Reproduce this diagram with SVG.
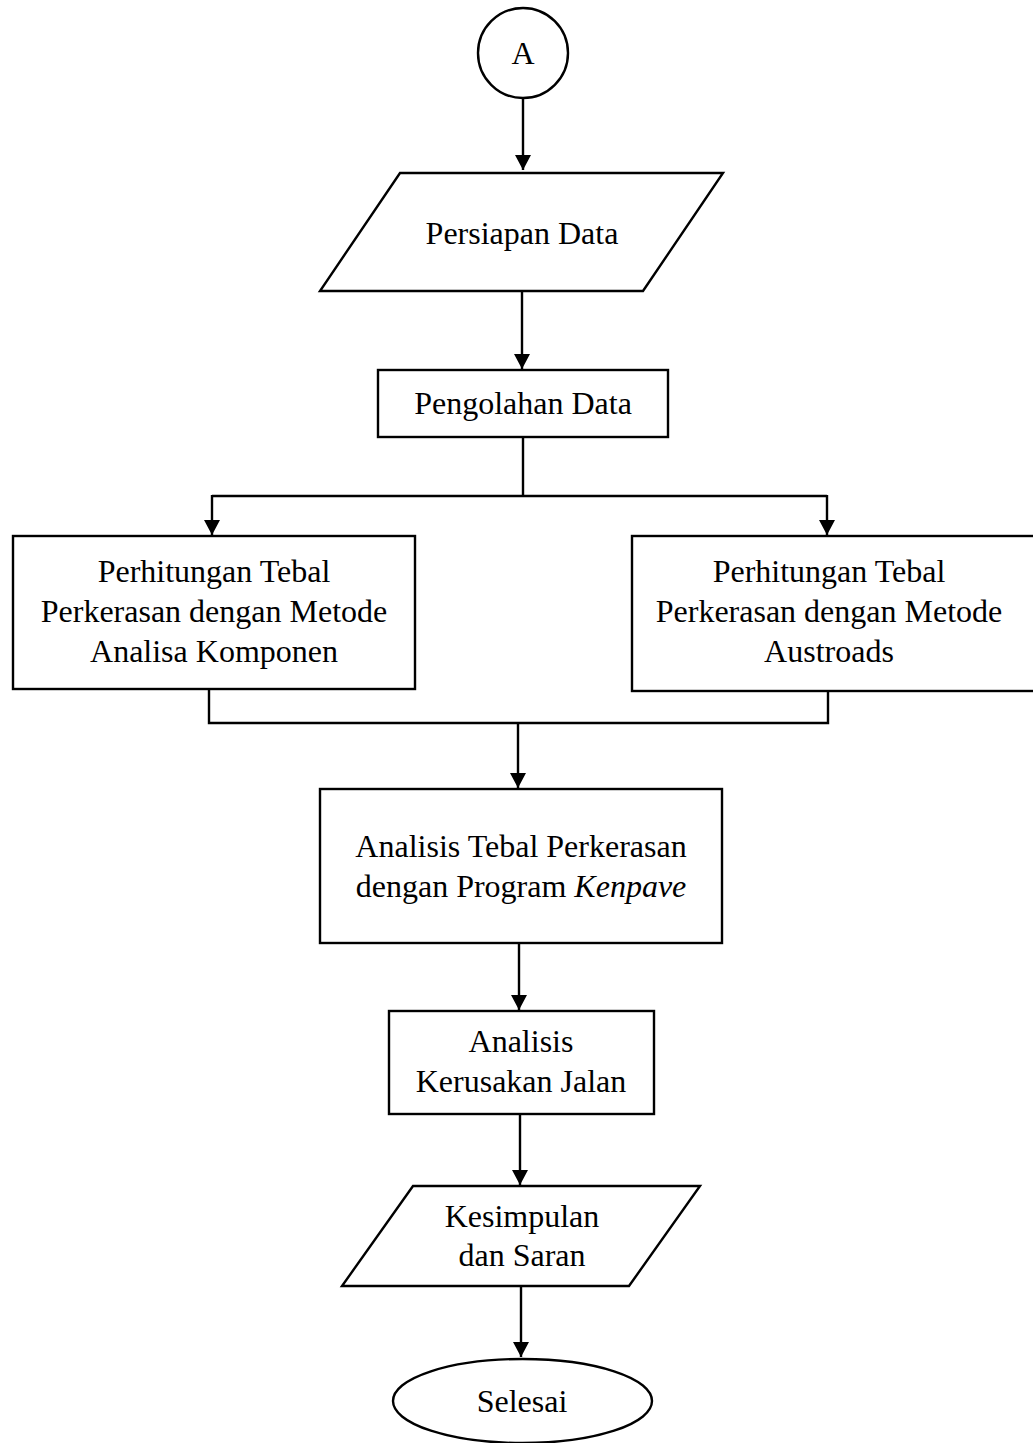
<svg xmlns="http://www.w3.org/2000/svg" width="1033" height="1443" viewBox="0 0 1033 1443">
  <style>
    .shape { fill: #ffffff; stroke: #000000; stroke-width: 2.4; }
    .wire { fill: none; stroke: #000000; stroke-width: 2.4; }
    .label { font-family: "Liberation Serif", "Times New Roman", serif; font-size: 32px; fill: #000000; text-anchor: middle; }
  </style>
  <defs>
    <!-- solid triangular head, tip at the end of the line -->
    <marker id="arrow" viewBox="0 0 15 16" refX="15" refY="8" markerWidth="15" markerHeight="16" markerUnits="userSpaceOnUse" orient="auto">
      <path d="M0,0 L15,8 L0,16 Z" fill="#000000"/>
    </marker>
  </defs>
  <rect width="1033" height="1443" fill="#ffffff"/>

  <!-- connectors -->
  <g id="connectors">
    <line class="wire" x1="523" y1="99" x2="523" y2="170" marker-end="url(#arrow)"/>
    <line class="wire" x1="522" y1="291" x2="522" y2="369" marker-end="url(#arrow)"/>
    <line class="wire" x1="523" y1="437" x2="523" y2="496"/>
    <line class="wire" x1="212" y1="496" x2="827" y2="496"/>
    <line class="wire" x1="212" y1="495" x2="212" y2="535" marker-end="url(#arrow)"/>
    <line class="wire" x1="827" y1="495" x2="827" y2="535" marker-end="url(#arrow)"/>
    <polyline class="wire" points="209,689 209,723 828,723 828,691"/>
    <line class="wire" x1="518" y1="723" x2="518" y2="788" marker-end="url(#arrow)"/>
    <line class="wire" x1="519" y1="943" x2="519" y2="1010" marker-end="url(#arrow)"/>
    <line class="wire" x1="520" y1="1114" x2="520" y2="1185" marker-end="url(#arrow)"/>
    <line class="wire" x1="521" y1="1286" x2="521" y2="1357" marker-end="url(#arrow)"/>
  </g>

  <!-- off-page connector A -->
  <g id="node-a">
    <circle class="shape" cx="523" cy="53" r="45"/>
    <text class="label" x="523" y="64">A</text>
  </g>

  <g id="node-persiapan">
    <polygon class="shape" points="400,173 723,173 643,291 320,291"/>
    <text class="label" x="522" y="244">Persiapan Data</text>
  </g>

  <g id="node-pengolahan">
    <rect class="shape" x="378" y="370" width="290" height="67"/>
    <text class="label" x="523" y="414">Pengolahan Data</text>
  </g>

  <g id="node-analisa-komponen">
    <rect class="shape" x="13" y="536" width="402" height="153"/>
    <text class="label" x="214" y="582">Perhitungan Tebal</text>
    <text class="label" x="214" y="622">Perkerasan dengan Metode</text>
    <text class="label" x="214" y="662">Analisa Komponen</text>
  </g>

  <g id="node-austroads">
    <rect class="shape" x="632" y="536" width="404" height="155"/>
    <text class="label" x="829" y="582">Perhitungan Tebal</text>
    <text class="label" x="829" y="622">Perkerasan dengan Metode</text>
    <text class="label" x="829" y="662">Austroads</text>
  </g>

  <g id="node-kenpave">
    <rect class="shape" x="320" y="789" width="402" height="154"/>
    <text class="label" x="521" y="857">Analisis Tebal Perkerasan</text>
    <text class="label" x="521" y="897">dengan Program <tspan font-style="italic">Kenpave</tspan></text>
  </g>

  <g id="node-kerusakan">
    <rect class="shape" x="389" y="1011" width="265" height="103"/>
    <text class="label" x="521" y="1052">Analisis</text>
    <text class="label" x="521" y="1092">Kerusakan Jalan</text>
  </g>

  <g id="node-kesimpulan">
    <polygon class="shape" points="413,1186 700,1186 629,1286 342,1286"/>
    <text class="label" x="522" y="1227">Kesimpulan</text>
    <text class="label" x="522" y="1266">dan Saran</text>
  </g>

  <g id="node-selesai">
    <ellipse class="shape" cx="522.5" cy="1401" rx="129.5" ry="42"/>
    <text class="label" x="522" y="1412">Selesai</text>
  </g>
</svg>
